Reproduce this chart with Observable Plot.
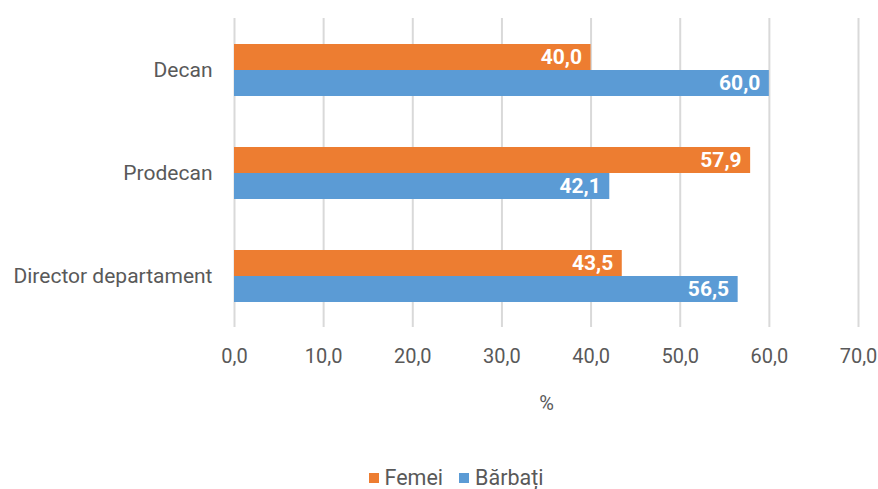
<!DOCTYPE html>
<html>
<head>
<meta charset="utf-8">
<script src="https://cdn.jsdelivr.net/npm/d3@7"></script>
<script src="https://cdn.jsdelivr.net/npm/@observablehq/plot@0.6"></script>
<style>
  body { margin: 0; background: #fff; font-family: Roboto, sans-serif; }
  #chart { width: 878px; }
  .legend { display: flex; justify-content: center; align-items: center; gap: 16px; margin-top: 25px; padding-left: 34px; font-size: 21.5px; color: #595959; }
  .legend span.item { display: flex; align-items: center; gap: 6px; }
  .legend span.sw { width: 10px; height: 10px; display: inline-block; }
</style>
</head>
<body>
<div id="chart"></div>
<script>
const categories = ["Decan", "Prodecan", "Director departament"];
const series = ["Femei", "Bărbați"];
const femei = [40.0, 57.9, 43.5];
const barbati = [60.0, 42.1, 56.5];
const colors = ["#ED7D31", "#5B9BD5"];
const xTicks = [0, 10, 20, 30, 40, 50, 60, 70];

const rows = [];
categories.forEach((c, i) => {
  rows.push({category: c, series: series[0], value: femei[i]});
  rows.push({category: c, series: series[1], value: barbati[i]});
});

const fmt = v => v.toFixed(1).replace(".", ",");

const plot = Plot.plot({
  width: 878,
  height: 440,
  marginLeft: 234,
  marginRight: 20,
  marginTop: 17,
  marginBottom: 112,
  style: {fontFamily: "Roboto, sans-serif", fontSize: "20px", color: "#595959", background: "white"},
  fy: {domain: categories, padding: 0, label: null, axis: "left", tickSize: 0, tickPadding: 22, fontSize: 21},
  y: {domain: series, axis: null, paddingInner: 0, paddingOuter: 0.95},
  x: {domain: [0, 70], ticks: xTicks, tickFormat: fmt, tickSize: 0, tickPadding: 21, label: "%", labelArrow: "none", labelAnchor: "center", labelOffset: 82},
  color: {domain: series, range: colors},
  marks: [
    Plot.ruleX(xTicks, {stroke: "#D9D9D9", strokeWidth: 2}),
    Plot.barX(rows, {fy: "category", y: "series", x: "value", fill: "series"}),
    Plot.text(rows, {fy: "category", y: "series", x: "value", text: d => fmt(d.value), textAnchor: "end", dx: -9, fill: "white", fontWeight: "bold", fontSize: 21})
  ]
});

document.getElementById("chart").appendChild(plot);

// Category labels a touch larger than the tick labels
plot.querySelectorAll("[aria-label='fy-axis tick label'] text, [aria-label='fy-axis'] text").forEach(t => t.setAttribute("font-size", "21"));

const legend = document.createElement("div");
legend.className = "legend";
series.forEach((s, i) => {
  const item = document.createElement("span");
  item.className = "item";
  const sw = document.createElement("span");
  sw.className = "sw";
  sw.style.background = colors[i];
  item.appendChild(sw);
  item.appendChild(document.createTextNode(s));
  legend.appendChild(item);
});
document.getElementById("chart").appendChild(legend);
</script>
</body>
</html>
